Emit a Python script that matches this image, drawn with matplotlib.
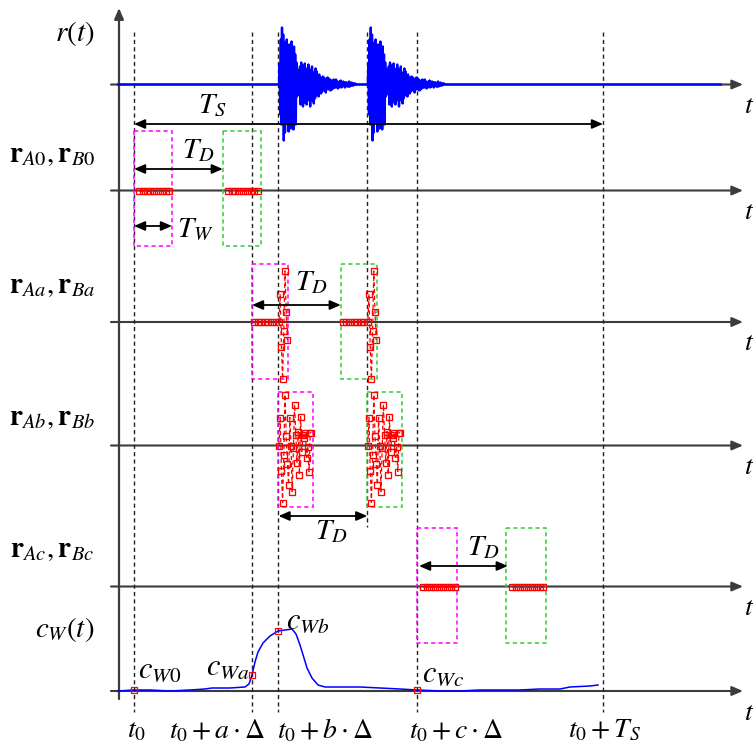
import numpy as np
import matplotlib
matplotlib.use("Agg")
import matplotlib.pyplot as plt
from matplotlib.patches import Rectangle

plt.rcParams['mathtext.fontset'] = 'stix'
plt.rcParams['font.family'] = ['Liberation Serif', 'DejaVu Serif']
plt.rcParams['lines.scale_dashes'] = False

# ------------------------------------------------------------------ data
# time instants (horizontal units)
t0, t_a, t_b, t_echo, t_c, t_end = 134, 252, 278.5, 367, 417, 603
T_W = 36          # window length
T_D = 88.8        # delay between A and B windows
dt_r = 0.6        # sampling step of the drawn r(t) waveform
burst_start = 279

# waveform of one burst (amplitude, up positive); the echo is the same burst delayed by T_D
burst = [0, 20, -30, 45, -40, 57, -35, 50, -56, 30, -48, 42, -30, 45, -38, 28, -47, 40,
         -25, 35, -44, 43, -30, 25, -45, 38, -20, 30, -40, 22,
         -12, 15, -10, 14, -8,
         18, -20, 22, -15, 19, -22, 12, -18, 21, -14, 16, -20, 10, -16, 20, -12, 15,
         -22, 14, -10, 18, -16, 12, -19, 9, -14, 16, -11, 13, -10, 8, -12, 10,
         -8, 7, -9, 6, -7, 8, -5, 7, -6, 5, -8, 6, -4, 7, -5, 6, -4, 5, -6, 4, -5, 3,
         -4, 5, -3,
         4, -3, 5, -2, 3, -4, 2, -3, 3, -2, 4, -3, 2, -2, 3, -1, 2, -3, 2, -1, 2, -2,
         1, -2, 3, -2, 1, -1, 2, -1, 1, -1, 1, 0, 1, 0, 0]

# samples inside the A windows (B windows hold the same samples delayed by T_D)
win0_t = [139, 142.8, 146.6, 150.4, 154.2, 158, 161.8, 165.6, 169.4]
win0_v = [0, 0, 0, 0, 0, 0, 0, 0, 0]
wina_t = [254, 257.6, 261.2, 264.8, 268.4, 272, 275.6, 279, 280.2, 281.4, 282.6,
          283.8, 285, 286.2, 287.4]
wina_v = [0, 0, 0, 0, 0, 0, 0, 0, 28, -25, -57, -9, 51, 10, -18]
winb_t = [279, 280.2, 281.4, 282.6, 283.8, 285, 286.2, 287.4, 288.6, 289.8, 291,
          292.2, 293.4, 294.6, 295.8, 297, 298.2, 299.4, 300.6, 301.8, 303, 304.2,
          305.4, 306.6, 307.8, 309, 310.2, 311.4]
winb_v = [0, 28, -25, -57, -9, 51, 10, -18, -39, 28, 0, -46, -2, 41, 11, -17,
          14, -29, 29, -6, 11, 8, 13, -12, -1, -26, 13, 13]
winc_t = [423.5, 427.4, 431.3, 435.2, 439.1, 443, 446.9, 450.8, 454.7]
winc_v = [0, 0, 0, 0, 0, 0, 0, 0, 0]
win_t = [win0_t, wina_t, winb_t, winc_t]
win_v = [win0_v, wina_v, winb_v, winc_v]
win_start = [t0, t_a, t_b, t_c]
win_len = [38, 36, 35, 40]

# similarity curve c_W(t)
cw_t = [118, 134, 150, 170, 190, 205, 212, 230, 245, 249, 252, 255, 258, 263, 270,
        278, 285, 292, 296, 300, 304, 307, 312, 318, 325, 340, 360, 380, 400, 417,
        440, 460, 480, 500, 520, 540, 560, 570, 590, 598]
cw_v = [0, 1, 1, 0, 1, 2, 3, 3, 4, 7, 16, 29, 39, 48, 55,
        60, 61, 62, 57, 46, 33, 23, 13, 6, 4, 4, 4, 3, 2, 1,
        0, 0, 1, 1, 1, 2, 2, 4, 5, 6]
cw_marks = [t0, t_a, t_b, t_c]

row_labels = [r'$r(t)$', r'$\mathbf{r}_{A0},\mathbf{r}_{B0}$', r'$\mathbf{r}_{Aa},\mathbf{r}_{Ba}$',
              r'$\mathbf{r}_{Ab},\mathbf{r}_{Bb}$', r'$\mathbf{r}_{Ac},\mathbf{r}_{Bc}$', r'$c_W(t)$']
tick_labels = [r'$t_0$', r'$t_0+a\cdot\Delta$', r'$t_0+b\cdot\Delta$', r'$t_0+c\cdot\Delta$', r'$t_0+T_S$']
tick_centres = [137, 217, 325, 456, 604]
cw_labels = [r'$c_{W0}$', r'$c_{Wa}$', r'$c_{Wb}$', r'$c_{Wc}$']

# ------------------------------------------------------------------ layout
row_y = [84.5, 190.5, 322, 445.5, 586.5, 691]
box_top = [131, 264, 392, 528]
box_h = 115
AXC = '#3c3c3c'

fig = plt.figure(figsize=(7.53, 7.47), dpi=100)
ax = fig.add_axes([0, 0, 1, 1])
ax.set_xlim(0, 753)
ax.set_ylim(747, 0)
ax.axis('off')

head = '-|>,head_length=0.65,head_width=0.28'
dhead = '<|-|>,head_length=0.65,head_width=0.28'

# vertical axis
ax.annotate('', xy=(119, 8), xytext=(119, 699),
            arrowprops=dict(arrowstyle=head, color=AXC, lw=1.6, shrinkA=0, shrinkB=0,
                            mutation_scale=10), zorder=2)
# horizontal axes + t labels
for y in row_y:
    ax.annotate('', xy=(743, y), xytext=(111, y),
                arrowprops=dict(arrowstyle=head, color=AXC, lw=1.5, shrinkA=0, shrinkB=0,
                                mutation_scale=10), zorder=2)
    ax.text(749, y + 22, r'$t$', fontsize=20, ha='center', va='center')

# vertical dashed event lines
ends = {t_echo: 527}
for t in [t0, t_a, t_b, t_echo, t_c, t_end]:
    ax.plot([t, t], [32, ends.get(t, 712)], color='#222222', lw=1.0,
            dashes=(3.0, 2.3), zorder=3)

# r(t)
k = np.arange(int(np.ceil((118 - burst_start) / dt_r)), int((721 - burst_start) / dt_r) + 1)
tk = burst_start + k * dt_r
b = np.array(burst, dtype=float)
nb = len(b)
shift = int(round(T_D / dt_r))
r = np.zeros_like(tk)
m1 = (k >= 0) & (k < nb)
r[m1] += b[k[m1]]
m2 = (k - shift >= 0) & (k - shift < nb)
r[m2] += b[k[m2] - shift]
ax.plot(tk, row_y[0] - r, color='#0000ff', lw=1.7, zorder=5)

# windows, samples, boxes
for i in range(4):
    y = row_y[i + 1]
    vals = np.array(win_v[i], dtype=float)
    ts = np.array(win_t[i], dtype=float)
    for off, ec in [(0, '#ff00ff'), (T_D, '#33cc33')]:
        x0 = win_start[i] + off
        ax.add_patch(Rectangle((x0, box_top[i]), win_len[i], box_h, fill=False, ec=ec,
                               lw=1.1, ls=(0, (3.0, 2.3)), zorder=4))
        ax.plot(ts + off, y - vals, color='#ff0000', lw=0.9, ls=(0, (3.0, 2.0)),
                marker='s', ms=3.7, mfc='none', mec='#ff0000', mew=0.95, zorder=6)

# c_W curve
ax.plot(cw_t, row_y[5] - np.array(cw_v), color='#0000ff', lw=1.1, zorder=5)
ax.plot(cw_marks, row_y[5] - np.interp(cw_marks, cw_t, cw_v), ls='none', marker='s',
        ms=4.2, mfc='none', mec='#ff0000', mew=0.9, zorder=6)

# double arrows with labels
arrows = [
    (t0, t_end, 124, r'$T_S$', 212, 106),
    (t0, t0 + T_D, 169, r'$T_D$', 198, 151),
    (t0, t0 + 38, 226, r'$T_W$', 195, 229),
    (t_a, t_a + T_D, 305, r'$T_D$', 311, 283),
    (t_b, t_b + T_D, 516, r'$T_D$', 331, 532),
    (t_c + 2, t_c + T_D + 2, 566, r'$T_D$', 483, 548),
]
for xa, xb, y, lab, lx, ly in arrows:
    ax.annotate('', xy=(xb, y), xytext=(xa, y),
                arrowprops=dict(arrowstyle=dhead, color='black', lw=1.3, shrinkA=0,
                                shrinkB=0, mutation_scale=10), zorder=7)
    ax.text(lx, ly, lab, fontsize=21, ha='center', va='center', zorder=8)

# row labels
label_pos = [(75, 34), (52, 155), (52, 286), (52, 418), (52, 550), (65, 630)]
for lab, (x, y) in zip(row_labels, label_pos):
    ax.text(x, y, lab, fontsize=21, ha='center', va='center')

# bottom tick labels
for lab, x in zip(tick_labels, tick_centres):
    ax.text(x, 731, lab, fontsize=20, ha='center', va='center')

# c_W labels
cw_lab_pos = [(138, 670), (206, 667), (286, 621), (422, 674)]
for lab, (x, y) in zip(cw_labels, cw_lab_pos):
    ax.text(x, y, lab, fontsize=22, ha='left', va='center', zorder=8)

fig.savefig('out.png', dpi=100)
